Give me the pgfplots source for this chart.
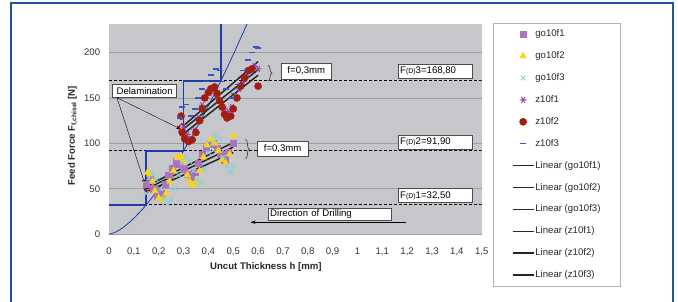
\documentclass[border=0pt]{standalone}
\usepackage{pgfplots}
\pgfplotsset{compat=1.18}
\usepackage{fontspec}
\setmainfont{Liberation Sans}
\usetikzlibrary{arrows.meta,decorations.pathreplacing}
\definecolor{plotbg}{RGB}{198,199,203}
\definecolor{gridc}{RGB}{160,160,163}
\definecolor{frameblue}{RGB}{35,85,155}
\definecolor{stepblue}{RGB}{35,60,165}
\definecolor{cA}{RGB}{170,115,190}
\definecolor{cB}{RGB}{250,212,20}
\definecolor{cC}{RGB}{130,208,220}
\definecolor{cD}{RGB}{140,70,165}
\definecolor{cE}{RGB}{160,30,20}
\definecolor{cF}{RGB}{55,85,195}
\begin{document}
\fontsize{9.6}{11}\selectfont
\begin{tikzpicture}
\path[use as bounding box] (0pt,0pt) rectangle (678pt,-302pt);
\begin{scope}
\clip (0pt,0pt) rectangle (678pt,-302pt);
\draw[frameblue, line width=2pt] (11pt,-320pt) -- (11pt,-3pt) -- (673pt,-3pt) -- (673pt,-320pt);
\end{scope}
\begin{axis}[
  at={(109pt,-234.3pt)}, anchor=south west,
  scale only axis, width=372.7pt, height=210pt,
  xmin=0, xmax=1.5, ymin=0, ymax=231,
  axis background/.style={fill=plotbg},
  axis line style={draw=none},
  xtick={0,0.1,...,1.5}, ytick={0,50,100,150,200},
  major tick length=0pt,
  ymajorgrids, grid style={gridc, line width=0.8pt},
  /pgf/number format/assume math mode=true,
  /pgf/number format/use comma,
  /pgf/number format/fixed, /pgf/number format/precision=1,
  tick label style={black!80},
  xticklabel style={yshift=-10pt},
  yticklabel style={xshift=-5.5pt},
  xlabel={\bfseries Uncut Thickness h [mm]},
  xlabel style={at={(axis description cs:0.421,-0.154)}, anchor=center, black!85},
  ylabel={\bfseries Feed Force F\textsubscript{f,chisel} [N]},
  ylabel style={at={(axis description cs:-0.0974,0.47)}, anchor=center, rotate=0, black!85},
  legend style={at={(axis description cs:1.0295,1.0062)}, anchor=north west,
    draw=gray!60, fill=white, inner xsep=19pt, inner ysep=5.5pt,
    row sep=10.9pt, column sep=0pt,
    nodes={inner sep=1pt, text height=7pt, text depth=2pt, text=black!85}},
  legend cell align=left,
  legend image code/.code={\draw[mark repeat=2,mark phase=2,#1] plot coordinates {(0pt,0pt) (10.5pt,0pt) (21pt,0pt)};},
]
% reference dashed lines
\addplot[forget plot, black, densely dashed, line width=0.8pt] coordinates {(0,32.5) (1.5,32.5)};
\addplot[forget plot, black, densely dashed, line width=0.8pt] coordinates {(0,91.9) (1.5,91.9)};
\addplot[forget plot, black, densely dashed, line width=0.8pt] coordinates {(0,168.8) (1.5,168.8)};
% step function
\addplot[forget plot, stepblue, line width=1.6pt] coordinates {(0,32.5) (0.15,32.5) (0.15,91.9) (0.3,91.9) (0.3,168.8) (0.45,168.8) (0.45,231)};
% curve
\addplot[forget plot, stepblue, line width=0.8pt, smooth] coordinates {
(0,0) (0.025,2.21) (0.05,6.25) (0.075,11.48) (0.1,17.68) (0.125,24.70) (0.15,32.47) (0.2,50.0) (0.25,69.9) (0.3,91.9) (0.35,115.7) (0.4,141.4) (0.45,168.7) (0.5,197.6) (0.55,228.0) (0.56,234.3)};
% scatter series
\addplot[only marks, mark=square*, mark size=3.2pt, color=cA] coordinates {
(0.150,55) (0.165,60) (0.180,50) (0.195,42) (0.210,45) (0.225,55) (0.240,65) (0.255,72) (0.270,80) (0.285,77) (0.300,72) (0.315,66) (0.330,63) (0.345,68) (0.360,78) (0.375,88) (0.390,95) (0.405,99) (0.420,100) (0.435,95) (0.450,88) (0.465,82) (0.480,90) (0.500,100)};
\addlegendentry{go10f1}
\addplot[only marks, mark=triangle*, mark size=3.8pt, color=cB] coordinates {
(0.155,68) (0.165,66) (0.175,58) (0.185,48) (0.200,40) (0.215,38) (0.230,45) (0.245,58) (0.260,70) (0.275,84) (0.290,86) (0.300,80) (0.315,65) (0.325,58) (0.335,54) (0.350,58) (0.365,70) (0.380,85) (0.395,98) (0.410,104) (0.425,100) (0.440,92) (0.455,82) (0.470,78) (0.485,88) (0.500,108)};
\addlegendentry{go10f2}
\addplot[only marks, mark=x, mark size=3.2pt, line width=0.9pt, color=cC] coordinates {
(0.150,45) (0.160,62) (0.175,67) (0.190,60) (0.205,50) (0.220,40) (0.235,34) (0.250,38) (0.265,50) (0.280,65) (0.295,78) (0.310,85) (0.325,80) (0.340,70) (0.355,60) (0.370,57) (0.385,72) (0.400,90) (0.415,100) (0.430,108) (0.445,105) (0.460,85) (0.475,75) (0.490,68) (0.500,75)};
\addlegendentry{go10f3}
\addplot[only marks, mark=asterisk, mark options={rotate=90}, mark size=3.4pt, line width=0.9pt, color=cD] coordinates {
(0.300,118) (0.315,110) (0.330,105) (0.345,115) (0.360,128) (0.375,142) (0.390,150) (0.405,155) (0.420,160) (0.435,152) (0.450,144) (0.465,138) (0.480,135) (0.495,140) (0.510,150) (0.525,160) (0.540,168) (0.555,175) (0.570,180) (0.585,185) (0.600,182)};
\addlegendentry{z10f1}
\addplot[only marks, mark=*, mark size=3.6pt, color=cE] coordinates {
(0.290,130) (0.295,112) (0.305,105) (0.320,102) (0.335,104) (0.350,112) (0.365,125) (0.375,138) (0.385,150) (0.400,156) (0.410,160) (0.425,162) (0.435,155) (0.445,147) (0.455,140) (0.465,132) (0.475,128) (0.490,130) (0.500,138) (0.515,150) (0.530,163) (0.545,172) (0.560,180) (0.575,182) (0.600,163)};
\addlegendentry{z10f2}
\addplot[only marks, mark=-, mark size=3pt, line width=1.5pt, color=cF] coordinates {
(0.285,128) (0.295,140) (0.310,143) (0.330,130) (0.345,138) (0.360,150) (0.375,160) (0.390,168) (0.410,175) (0.430,182) (0.445,180) (0.455,168) (0.470,160) (0.490,150) (0.505,155) (0.520,165) (0.540,180) (0.560,192) (0.575,200) (0.590,206) (0.600,205)};
\addlegendentry{z10f3}
% linear trends
\addplot[black!85, line width=1.5pt] coordinates {(0.15,50) (0.5,96)};
\addlegendentry{Linear (go10f1)}
\addplot[black!85, line width=1.5pt] coordinates {(0.152,53) (0.5,101)};
\addlegendentry{Linear (go10f2)}
\addplot[black!85, line width=1.5pt] coordinates {(0.152,47) (0.5,90)};
\addlegendentry{Linear (go10f3)}
\addplot[black!85, line width=1.5pt] coordinates {(0.3,116) (0.6,181)};
\addlegendentry{Linear (z10f1)}
\addplot[black!85, line width=1.5pt] coordinates {(0.302,111) (0.6,175)};
\addlegendentry{Linear (z10f2)}
\addplot[black!85, line width=1.5pt] coordinates {(0.298,119) (0.6,190)};
\addlegendentry{Linear (z10f3)}
% annotations
\node[draw=black!70, fill=white, anchor=west, inner xsep=2pt, inner ysep=0pt, text width=70pt, minimum height=14pt] at (axis cs:1.163,179.8) {F{\fontsize{7}{8}\selectfont(D)}3=168,80};
\node[draw=black!70, fill=white, anchor=west, inner xsep=2pt, inner ysep=0pt, text width=70pt, minimum height=14pt] at (axis cs:1.163,101.6) {F{\fontsize{7}{8}\selectfont(D)}2=91,90};
\node[draw=black!70, fill=white, anchor=west, inner xsep=2pt, inner ysep=0pt, text width=70pt, minimum height=14pt] at (axis cs:1.163,42.7) {F{\fontsize{7}{8}\selectfont(D)}1=32,50};
\node[draw=black!70, fill=white, inner xsep=2pt, inner ysep=0pt, minimum width=50.7pt, minimum height=16pt] at (axis cs:0.794,179.8) {f=0,3mm};
\node[draw=black!70, fill=white, inner xsep=2pt, inner ysep=0pt, minimum width=50.3pt, minimum height=15pt] at (axis cs:0.699,93.7) {f=0,3mm};
\draw[black!70, line width=0.7pt, decorate, decoration={brace, amplitude=4pt}] (axis cs:0.640,186) -- (axis cs:0.640,168.5);
\draw[black!70, line width=0.7pt, decorate, decoration={brace, amplitude=4pt}] (axis cs:0.549,104.5) -- (axis cs:0.549,83);
\node[draw=black!70, fill=white, anchor=west, inner xsep=2pt, inner ysep=0pt, text width=118.7pt, minimum height=12.5pt] at (axis cs:0.640,22.35) {Direction of Drilling};
\draw[black, -{Stealth[length=5pt,width=3.5pt]}] (axis cs:1.195,13.3) -- (axis cs:0.570,13.3);
\node[draw=black!70, fill=white, inner xsep=2pt, inner ysep=0pt, minimum width=64pt, minimum height=12.5pt] at (axis cs:0.1433,158) {Delamination};
\draw[black, -{Stealth[length=5pt,width=3.5pt]}] (axis cs:0.032,150.3) -- (axis cs:0.2897,115.6);
\draw[black, -{Stealth[length=5pt,width=3.5pt]}] (axis cs:0.032,150.3) -- (axis cs:0.1449,55);
\draw[red!85!black, line width=1pt] (axis cs:0.2925,114.9) ellipse [x radius=2.6pt, y radius=6.3pt];
\draw[red!85!black, line width=1pt] (axis cs:0.1517,51.8) ellipse [x radius=2.6pt, y radius=6.3pt];
\end{axis}
\end{tikzpicture}
\end{document}
